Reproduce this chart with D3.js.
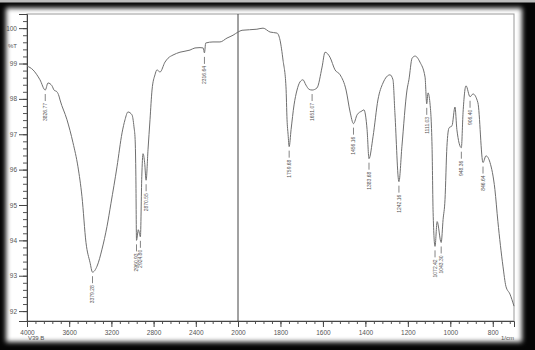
<!DOCTYPE html>
<html>
<head>
<meta charset="utf-8">
<script src="https://cdn.jsdelivr.net/npm/d3@7"></script>
<style>
  body { margin: 0; background: #000; }
  svg { display: block; font-family: "Liberation Sans", Arial, sans-serif; }
</style>
</head>
<body>
<div id="chart"></div>
<script>
// spectrum, wavenumber (1/cm) vs %T
const wavenumbers = [4000, 3943, 3877, 3827, 3801, 3763, 3744, 3716, 3697, 3687, 3621, 3564, 3517, 3479, 3441, 3403, 3379, 3336, 3289, 3242, 3204, 3147, 3099, 3071, 3043, 3005, 2986, 2975, 2968, 2962, 2945, 2925, 2912, 2900, 2885, 2871, 2853, 2834, 2815, 2787, 2768, 2739, 2692, 2663, 2616, 2550, 2455, 2408, 2360, 2330, 2318, 2306, 2237, 2171, 2104, 2047, 2000, 1981, 1911, 1882, 1849, 1816, 1802, 1788, 1774, 1769, 1764, 1759, 1750, 1736, 1722, 1708, 1694, 1680, 1665, 1651, 1628, 1604, 1590, 1567, 1543, 1519, 1491, 1472, 1456, 1439, 1416, 1407, 1392, 1383, 1364, 1341, 1317, 1284, 1270, 1261, 1242, 1228, 1204, 1195, 1180, 1166, 1143, 1119, 1111, 1105, 1096, 1086, 1081, 1072, 1062, 1043, 1034, 1025, 1016, 1006, 992, 978, 969, 948, 940, 926, 907, 893, 870, 846, 832, 813, 790, 776, 752, 738, 719, 700];
const transmittance = [98.93, 98.82, 98.54, 98.25, 98.45, 98.37, 98.25, 98.20, 98.08, 97.97, 97.41, 96.76, 96.08, 95.24, 93.94, 93.38, 93.10, 93.27, 93.75, 94.39, 95.05, 96.08, 97.04, 97.41, 97.63, 97.55, 97.21, 96.85, 95.80, 94.00, 94.30, 94.10, 95.80, 96.45, 96.20, 95.70, 96.56, 97.41, 98.25, 98.68, 98.82, 98.76, 99.04, 99.15, 99.24, 99.32, 99.38, 99.44, 99.45, 99.44, 99.30, 99.58, 99.61, 99.61, 99.72, 99.80, 99.89, 99.94, 99.97, 100.00, 99.89, 99.86, 99.66, 99.10, 98.34, 97.41, 96.99, 96.65, 97.13, 97.83, 98.25, 98.48, 98.54, 98.39, 98.27, 98.25, 98.31, 98.90, 99.32, 99.18, 98.82, 98.68, 98.25, 97.63, 97.30, 97.55, 97.66, 97.69, 97.13, 96.31, 96.93, 97.97, 98.45, 98.68, 98.54, 97.61, 95.66, 96.65, 98.25, 98.54, 99.15, 99.21, 99.04, 98.62, 97.86, 98.17, 97.89, 96.65, 94.79, 93.83, 94.53, 93.94, 94.59, 95.15, 96.65, 97.18, 97.24, 97.77, 97.13, 96.62, 97.61, 98.37, 98.06, 98.14, 97.89, 96.20, 96.39, 96.20, 95.44, 94.54, 93.27, 92.70, 92.48, 92.14];

// peak picks
const peakWavenumbers = [3827, 3379, 2962, 2925, 2871, 2318, 1759, 1651, 1456, 1383, 1242, 1111, 1072, 1043, 948, 907, 846];
const peakTransmittance = [98.25, 93.10, 94.00, 94.10, 95.70, 99.30, 96.65, 98.25, 97.30, 96.31, 95.66, 97.86, 93.83, 93.94, 96.62, 98.06, 96.20];
const peakLabels = ["3826.77", "3379.28", "2960.93", "2924.80", "2870.55", "2316.64", "1759.68", "1651.07", "1456.16", "1383.68", "1242.16", "1111.03", "1072.42", "1043.30", "948.36", "906.40", "846.64"];

// axis ticks
const xMajorTicks = [4000, 3600, 3200, 2800, 2400, 2000, 1800, 1600, 1400, 1200, 1000, 800];
const yMajorTicks = [92, 93, 94, 95, 96, 97, 98, 99, 100];

const width = 535, height = 350;
const plot = { left: 27, right: 514, top: 14, bottom: 321 };

const svg = d3.select("#chart").append("svg")
    .attr("width", width)
    .attr("height", height);

// Frame (black border with soft inner shading)
const defs = svg.append("defs");
defs.append("filter")
    .attr("id", "soft")
    .attr("x", "-5%").attr("y", "-5%").attr("width", "110%").attr("height", "110%")
    .append("feGaussianBlur")
    .attr("stdDeviation", 2.5);

svg.append("rect")
    .attr("width", width).attr("height", height)
    .attr("fill", "#050505");
svg.append("rect")
    .attr("width", width).attr("height", 2.5)
    .attr("fill", "#bdbdbd");
svg.append("rect")
    .attr("x", 6).attr("y", 8)
    .attr("width", 516).attr("height", 334)
    .attr("fill", "#fff")
    .attr("filter", "url(#soft)");

// Scales: the x axis is expanded 2x below 2000 1/cm
const x = d3.scaleLinear()
    .domain([4000, 2000, 700])
    .range([plot.left, 238, plot.right]);

const y = d3.scaleLinear()
    .domain([91.72, 100.4])
    .range([plot.bottom, plot.top]);

// Plot border
svg.append("rect")
    .attr("x", plot.left).attr("y", plot.top)
    .attr("width", plot.right - plot.left)
    .attr("height", plot.bottom - plot.top)
    .attr("fill", "none")
    .attr("stroke", "#999")
    .attr("stroke-width", 1);

// Split line at 2000
svg.append("line")
    .attr("x1", x(2000)).attr("x2", x(2000))
    .attr("y1", plot.top).attr("y2", plot.bottom)
    .attr("stroke", "#444")
    .attr("stroke-width", 1);

// Minor ticks
const xMinor = d3.range(4000, 2000, -80).concat(d3.range(2000, 699, -40));
const yMinor = d3.range(92, 100.41, 0.2);

svg.append("g")
    .attr("transform", `translate(0,${plot.bottom})`)
    .call(d3.axisBottom(x).tickValues(xMinor).tickSize(3).tickFormat(""))
    .call(g => g.select(".domain").remove())
    .selectAll("line").attr("stroke", "#555");

svg.append("g")
    .attr("transform", `translate(${plot.left},0)`)
    .call(d3.axisLeft(y).tickValues(yMinor).tickSize(4).tickFormat(""))
    .call(g => g.select(".domain").remove())
    .selectAll("line").attr("stroke", "#555");

// Major axes
const xAxis = svg.append("g")
    .attr("transform", `translate(0,${plot.bottom})`)
    .call(d3.axisBottom(x).tickValues(xMajorTicks).tickSize(6).tickPadding(3).tickFormat(d3.format("d")));
xAxis.select(".domain").attr("stroke", "#444");
xAxis.selectAll("line").attr("stroke", "#444");
xAxis.selectAll("text")
    .style("fill", "#555")
    .style("font-size", "6.5px");

const yAxis = svg.append("g")
    .attr("transform", `translate(${plot.left},0)`)
    .call(d3.axisLeft(y).tickValues(yMajorTicks).tickSize(8).tickPadding(2));
yAxis.select(".domain").attr("stroke", "#444");
yAxis.selectAll("line").attr("stroke", "#444");
yAxis.selectAll("text")
    .style("fill", "#555")
    .style("font-size", "6.5px");

// Axis captions
svg.append("text")
    .attr("x", 17).attr("y", y(99.5) + 2)
    .attr("text-anchor", "end")
    .style("fill", "#555")
    .style("font-size", "6px")
    .text("%T");

svg.append("text")
    .attr("x", 28).attr("y", 340)
    .style("fill", "#555")
    .style("font-size", "6px")
    .text("V39 B");

svg.append("text")
    .attr("x", 514).attr("y", 340)
    .attr("text-anchor", "end")
    .style("fill", "#555")
    .style("font-size", "6px")
    .text("1/cm");

// Spectrum
const spectrum = wavenumbers.map((w, i) => ({ w, t: transmittance[i] }));

svg.append("path")
    .datum(spectrum)
    .attr("fill", "none")
    .attr("stroke", "#6f6f6f")
    .attr("stroke-width", 1)
    .attr("d", d3.line().x(d => x(d.w)).y(d => y(d.t)).curve(d3.curveMonotoneX));

// Peak labels
const peaks = peakWavenumbers.map((w, i) => ({ w, t: peakTransmittance[i], label: peakLabels[i] }));

const peakG = svg.selectAll(".peak")
    .data(peaks)
    .enter()
    .append("g")
    .attr("class", "peak");

peakG.append("line")
    .attr("x1", d => x(d.w)).attr("x2", d => x(d.w))
    .attr("y1", d => y(d.t) + 4)
    .attr("y2", d => y(d.t) + 11)
    .attr("stroke", "#666")
    .attr("stroke-width", 0.8);

peakG.append("text")
    .attr("transform", d => `translate(${x(d.w) + 1.8},${y(d.t) + 13}) rotate(-90)`)
    .attr("text-anchor", "end")
    .style("fill", "#555")
    .style("font-size", "5px")
    .text(d => d.label);
</script>
</body>
</html>
